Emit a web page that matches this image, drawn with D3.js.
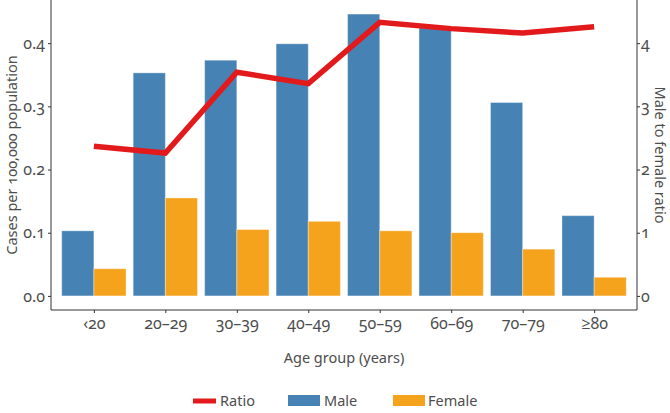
<!DOCTYPE html>
<html>
<head>
<meta charset="utf-8">
<script src="https://cdn.jsdelivr.net/npm/d3@7"></script>
<style>
  html, body { margin: 0; padding: 0; background: #fff; }
  svg text { font-family: "Noto Sans", "Open Sans", sans-serif; font-feature-settings: "onum" 1; fill: #4d4d4d; }
</style>
</head>
<body>
<svg id="chart" width="670" height="413"></svg>
<script>
const categories = ["\u203920", "20\u201329", "30\u201339", "40\u201349", "50\u201359", "60\u201369", "70\u201379", "\u226580"];
const maleRates = [0.103, 0.353, 0.373, 0.399, 0.446, 0.424, 0.306, 0.127];
const femaleRates = [0.043, 0.155, 0.105, 0.118, 0.103, 0.100, 0.074, 0.0295];
const ratioValues = [2.37, 2.26, 3.54, 3.36, 4.33, 4.23, 4.16, 4.26];
const leftTicks = [0.0, 0.1, 0.2, 0.3, 0.4];
const rightTicks = [0, 1, 2, 3, 4];
const seriesNames = ["Male", "Female"];

const colors = { Male: "#4682b4", Female: "#f5a31c", Ratio: "#e31a1c" };
const svg = d3.select("#chart");
const panel = { left: 51, right: 637, top: 0, bottom: 310 };

// y: left (cases), ggplot style 5% expansion
const yMax = d3.max(maleRates.concat(femaleRates));
const pad = yMax * 0.05;
const y = d3.scaleLinear().domain([-pad, yMax + pad]).range([panel.bottom, panel.top]);
const y2 = d3.scaleLinear().domain([-pad * 10, (yMax + pad) * 10]).range([panel.bottom, panel.top]);

// x: discrete with 0.6 expansion
const xc = d3.scaleLinear().domain([-0.6, categories.length - 1 + 0.6]).range([panel.left, panel.right]);
const unit = xc(1) - xc(0);
const barW = unit * 0.45;

// bars
const g = svg.append("g");
categories.forEach((c, i) => {
  const cx = xc(i);
  [maleRates[i], femaleRates[i]].forEach((v, k) => {
    g.append("rect")
      .attr("x", cx - barW + k * barW)
      .attr("y", y(v))
      .attr("width", barW)
      .attr("height", y(0) - y(v))
      .attr("fill", colors[seriesNames[k]])
      .attr("stroke", "rgba(255,255,255,0.35)")
      .attr("stroke-width", 1);
  });
});

// ratio line
const line = d3.line().x((d, i) => xc(i)).y(d => y2(d));
svg.append("path")
  .datum(ratioValues)
  .attr("d", line)
  .attr("fill", "none")
  .attr("stroke", colors.Ratio)
  .attr("stroke-width", 5.5)
  .attr("stroke-linejoin", "miter");

// axes
const axisColor = "#333";
const leftAxis = d3.axisLeft(y).tickValues(leftTicks).tickFormat(d3.format(".1f")).tickSize(3).tickPadding(3);
const rightAxis = d3.axisRight(y2).tickValues(rightTicks).tickFormat(d3.format("d")).tickSize(3).tickPadding(1);
const bottomAxis = d3.axisBottom(d3.scaleLinear().domain(xc.domain()).range(xc.range()))
  .tickValues(d3.range(categories.length)).tickFormat(i => categories[i]).tickSize(3).tickPadding(5);

function styleAxis(sel) {
  sel.attr("font-size", 16).attr("font-family", null);
  sel.select(".domain").remove();
  sel.selectAll(".tick line").attr("stroke", axisColor);
  sel.selectAll(".tick text").attr("font-size", 16).attr("fill", "#4d4d4d");
}
svg.append("g").attr("transform", `translate(${panel.left},0)`).call(leftAxis).call(styleAxis);
svg.append("g").attr("transform", `translate(${panel.right},0)`).call(rightAxis).call(styleAxis);
svg.append("g").attr("transform", `translate(0,${panel.bottom})`).call(bottomAxis).call(styleAxis);

// axis lines
svg.append("line").attr("x1", panel.left).attr("x2", panel.left).attr("y1", panel.top).attr("y2", panel.bottom).attr("stroke", axisColor).attr("stroke-width", 1);
svg.append("line").attr("x1", panel.right).attr("x2", panel.right).attr("y1", panel.top).attr("y2", panel.bottom).attr("stroke", axisColor).attr("stroke-width", 1);
svg.append("line").attr("x1", panel.left).attr("x2", panel.right).attr("y1", panel.bottom).attr("y2", panel.bottom).attr("stroke", axisColor).attr("stroke-width", 1);

// axis titles
svg.append("text").attr("transform", `translate(17,${(panel.top + panel.bottom) / 2}) rotate(-90)`)
  .attr("text-anchor", "middle").attr("font-size", 14.5).text("Cases per 100,000 population");
svg.append("text").attr("transform", `translate(655,${(panel.top + panel.bottom) / 2}) rotate(90)`)
  .attr("text-anchor", "middle").attr("font-size", 14.5).text("Male to female ratio");
svg.append("text").attr("x", (panel.left + panel.right) / 2).attr("y", 363)
  .attr("text-anchor", "middle").attr("font-size", 14.5).text("Age group (years)");

// legend
const ly = 401;
const leg = svg.append("g");
leg.append("line").attr("x1", 193).attr("x2", 216).attr("y1", ly).attr("y2", ly).attr("stroke", colors.Ratio).attr("stroke-width", 5);
leg.append("text").attr("x", 220).attr("y", ly + 5).attr("font-size", 14.5).text("Ratio");
leg.append("rect").attr("x", 288).attr("y", ly - 6).attr("width", 32).attr("height", 11).attr("fill", colors.Male);
leg.append("text").attr("x", 324).attr("y", ly + 5).attr("font-size", 14.5).text("Male");
leg.append("rect").attr("x", 393).attr("y", ly - 6).attr("width", 32).attr("height", 11).attr("fill", colors.Female);
leg.append("text").attr("x", 428).attr("y", ly + 5).attr("font-size", 14.5).text("Female");
</script>
</body>
</html>
